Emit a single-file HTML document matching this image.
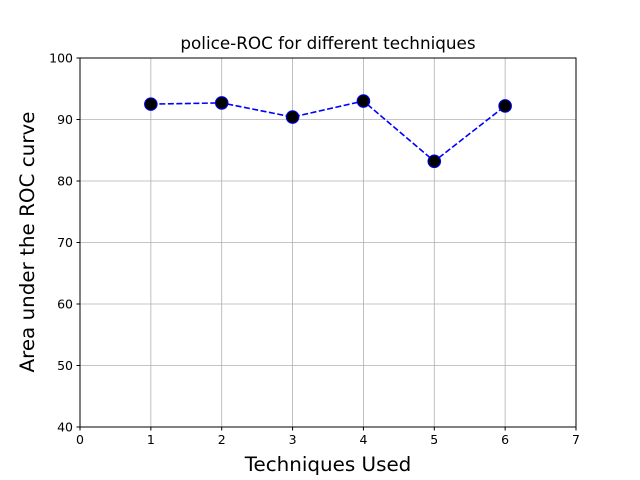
<!DOCTYPE html>
<html><head><meta charset="utf-8"><style>body{margin:0;background:#fff}svg{display:block;font-family:"DejaVu Sans","Liberation Sans",sans-serif}</style></head>
<body>
<svg id="chart" width="640" height="480" viewBox="0 0 640 480" xmlns="http://www.w3.org/2000/svg">
<rect width="640" height="480" fill="#fff"/>
<g id="grid"></g>
<g id="ticks"></g>
<g id="series"></g>
<rect x="80" y="58" width="496" height="369" fill="none" stroke="#000" stroke-width="1"/>
<text x="328" y="49" text-anchor="middle" font-size="16.8">police-ROC for different techniques</text>
<text x="328" y="471" text-anchor="middle" font-size="19.9">Techniques Used</text>
<text transform="translate(34,242) rotate(-90)" text-anchor="middle" font-size="19.9">Area under the ROC curve</text>
</svg>
<script>
const categories = [1, 2, 3, 4, 5, 6];
const aucValues = [92.5, 92.7, 90.4, 93.0, 83.2, 92.2];
const xTicks = [0, 1, 2, 3, 4, 5, 6, 7];
const yTicks = [40, 50, 60, 70, 80, 90, 100];
const NS = "http://www.w3.org/2000/svg";
const L = 80, R = 576, T = 58, B = 427;
const xs = v => L + (v - 0) / 7 * (R - L);
const ys = v => B - (v - 40) / 60 * (B - T);
function mk(tag, attrs, parent) { const e = document.createElementNS(NS, tag); for (const k in attrs) e.setAttribute(k, attrs[k]); parent.appendChild(e); return e; }
const grid = document.getElementById('grid'), ticks = document.getElementById('ticks'), series = document.getElementById('series');
xTicks.forEach(t => {
  const x = xs(t);
  const g = mk('line', {x1: x, x2: x, y1: T, y2: B, stroke: '#b0b0b0', 'stroke-width': 0.8}, grid);
  
  
  mk('line', {x1: x, x2: x, y1: B, y2: B + 3.5, stroke: '#000'}, ticks);
  const tx = mk('text', {x: x, y: B + 17, 'text-anchor': 'middle', 'font-size': 12.5}, ticks);
  tx.textContent = t;
  
  
});
yTicks.forEach(t => {
  const y = ys(t);
  const g = mk('line', {x1: L, x2: R, y1: y, y2: y, stroke: '#b0b0b0', 'stroke-width': 0.8}, grid);
  
  
  mk('line', {x1: L - 3.5, x2: L, y1: y, y2: y, stroke: '#000'}, ticks);
  const tx = mk('text', {x: L - 7, y: y + 4.5, 'text-anchor': 'end', 'font-size': 12.5}, ticks);
  tx.textContent = t;
  
  
});
const pts = categories.map((c, i) => xs(c) + ',' + ys(aucValues[i])).join(' ');
const line = mk('polyline', {points: pts, fill: 'none', stroke: '#0000ff', 'stroke-width': 1.6, 'stroke-dasharray': '6,2.5'}, series);


categories.forEach((c, i) => {
  const p = mk('circle', {cx: xs(c), cy: ys(aucValues[i]), r: 6.3, fill: '#000', stroke: '#0000ff', 'stroke-width': 1}, series);
  
  
});
</script>
</body></html>
